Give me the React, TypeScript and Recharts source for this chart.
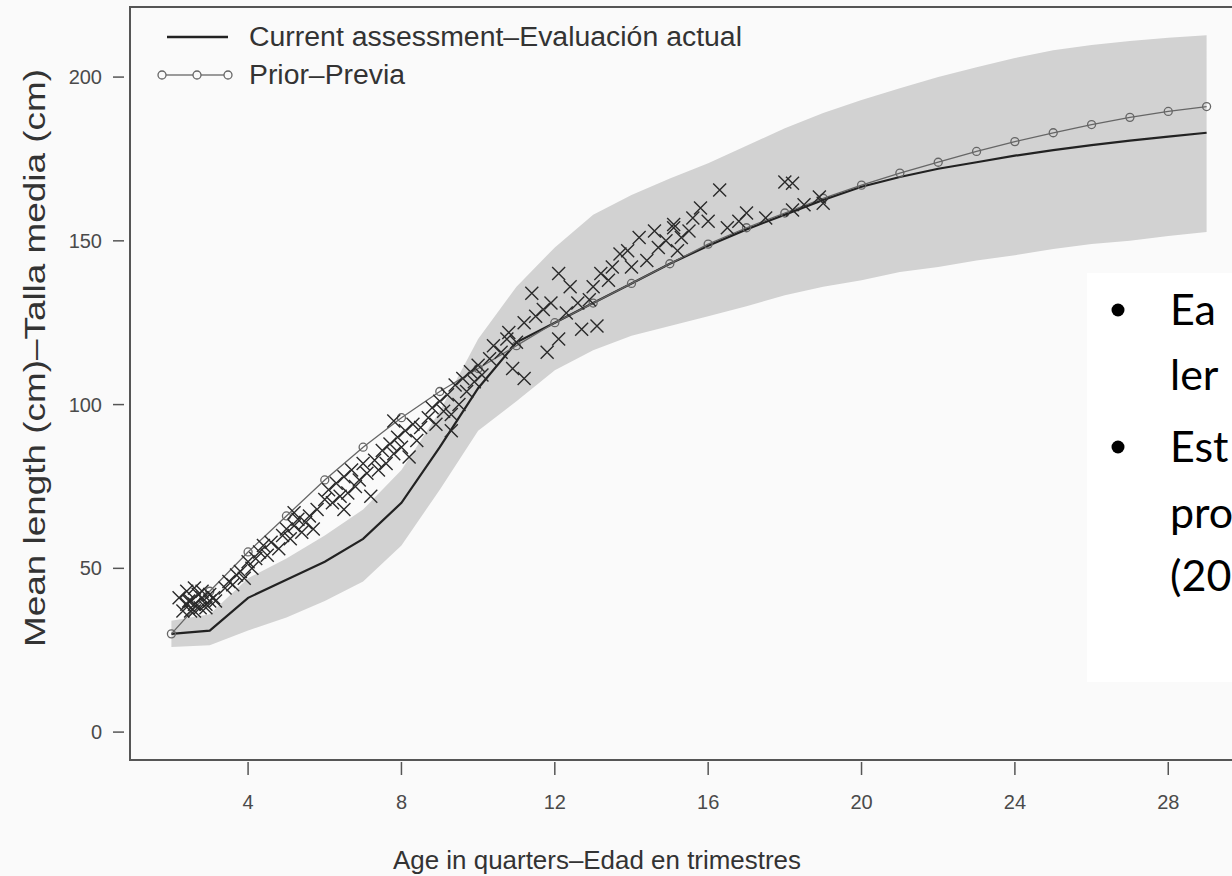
import React from 'react';
import { ComposedChart, Area, Line, Scatter, XAxis, YAxis, ReferenceArea } from 'recharts';

// age in quarters, one point per quarter
const ages = [2, 3, 4, 5, 6, 7, 8, 9, 10, 11, 12, 13, 14, 15, 16, 17, 18, 19, 20, 21, 22, 23, 24, 25, 26, 27, 28, 29];
const currentLen = [30, 31, 41, 46.5, 52, 59, 70, 87, 105, 119, 125, 131, 137, 143, 148.5, 153.5, 158, 162.5, 166.5, 169.5, 172, 174, 176, 177.7, 179.2, 180.6, 181.8, 183];
const priorLen = [30, 43, 55, 66, 77, 87, 96, 104, 111, 118, 125, 131, 137, 143, 149, 154, 158.5, 163, 167, 170.7, 174, 177.3, 180.3, 183, 185.5, 187.7, 189.5, 191];
const bandLow = [26, 26.5, 31, 35, 40, 46, 57, 74, 92, 101, 110.5, 116.6, 121, 124, 127, 130, 133.4, 136, 138, 140.5, 142, 144, 145.6, 147.5, 149, 150, 151.5, 152.7];
const bandHigh = [34, 36, 47, 53, 60, 68, 80, 98, 120, 136, 148, 158, 164, 169, 173.7, 179, 184.4, 189, 193, 196.6, 200, 203, 205.8, 208.2, 209.8, 211, 212, 212.8];

// observed mean lengths
const obsAge = [
  2.2, 2.4, 2.4, 2.5, 2.5, 2.6, 2.7, 2.75, 2.8, 2.9, 3.0, 3.0, 2.3, 2.6, 2.8, 2.9, 3.1, 2.6, 2.45, 3.15,
  3.4, 3.5, 3.6, 3.8, 3.9, 4.0, 4.1, 4.2, 3.7, 4.3,
  4.4, 4.5, 4.6, 4.8, 4.9, 5.0, 5.1, 5.2, 5.3, 5.4, 5.5, 5.6, 5.7, 5.8, 5.2,
  6.0, 6.1, 6.2, 6.3, 6.4, 6.5, 6.6, 6.7, 6.8, 6.9, 7.0, 7.1, 7.2, 6.5,
  7.3, 7.4, 7.5, 7.6, 7.7, 7.8, 7.9, 8.0, 8.1, 8.2, 8.3, 8.4, 8.5, 7.8,
  8.7, 8.8, 8.9, 9.0, 9.1, 9.2, 9.3, 9.4, 9.5, 9.6, 9.7, 9.8, 9.9, 10.0, 10.1, 9.3,
  10.3, 10.75, 10.9, 11.2, 11.2, 11.4, 11.7, 11.8, 12.1, 12.1, 12.4, 12.7, 12.9, 13.1, 10.4, 10.6, 10.8, 11.0, 11.5, 11.9,
  13.2, 13.5, 13.7, 14.0, 14.2, 14.4, 14.6, 14.9, 15.1, 12.3, 12.6, 13.0, 13.4, 13.9, 14.7, 15.3, 15.5, 15.2,
  15.6, 15.8, 16.0, 16.3, 16.8, 17.0, 18.0, 18.2, 18.2, 18.9, 19.0, 15.1, 16.5, 17.5, 18.5,
];
const obsLen = [
  41, 39, 43, 37, 40, 39, 42, 38, 41, 39, 40, 42, 37, 44, 43, 38, 41, 37, 40, 40,
  44, 46, 45, 49, 47, 52, 50, 53, 48, 55,
  57, 54, 58, 56, 60, 62, 59, 63, 65, 61, 64, 66, 62, 68, 67,
  71, 74, 70, 76, 72, 78, 73, 80, 75, 77, 82, 79, 72, 68,
  83, 80, 86, 82, 88, 85, 90, 87, 92, 84, 94, 89, 93, 95,
  96, 99, 94, 101, 98, 103, 92, 106, 100, 108, 104, 110, 107, 112, 109, 97,
  114, 120, 111, 108, 125, 134, 129, 116, 120, 140, 136, 123, 132, 124, 118, 116, 122, 119, 127, 131,
  140, 142, 146, 142, 151, 144, 153, 150, 155, 128, 131, 136, 138, 147, 148, 151, 153, 147,
  157, 160, 156, 165.5, 156, 158.5, 168, 167.6, 159.4, 163.4, 161.5, 154, 154, 157, 161,
];

const xTicks = [4, 8, 12, 16, 20, 24, 28];
const yTicks = [0, 50, 100, 150, 200];

const curveData = ages.map((age, i) => ({
  age,
  current: currentLen[i],
  prior: priorLen[i],
  band: [bandLow[i], bandHigh[i]],
}));
const obsData = obsAge.map((age, i) => ({ age, len: obsLen[i] }));

const FONT = '"Liberation Sans", Arial, sans-serif';
const X_DOMAIN: [number, number] = [0.92, 30.08];
const Y_DOMAIN: [number, number] = [-8.52, 221.4];

function Cross(props: any) {
  const { cx, cy } = props;
  if (cx == null || cy == null) return null;
  const s = 6.5;
  return (
    <path
      d={`M${cx - s},${cy - s}L${cx + s},${cy + s}M${cx - s},${cy + s}L${cx + s},${cy - s}`}
      stroke="#2a2a2a"
      strokeWidth={1.4}
      fill="none"
    />
  );
}

function XTick({ x, y, payload }: any) {
  return (
    <g>
      <line x1={x} x2={x} y1={y + 2} y2={y + 15} stroke="#555" strokeWidth={1.5} />
      <text x={x} y={y + 49} textAnchor="middle" fontSize={20} fill="#4a4a4a" fontFamily={FONT}>
        {payload.value}
      </text>
    </g>
  );
}

function YTick({ x, y, payload }: any) {
  return (
    <g>
      <line x1={x - 17} x2={x - 6} y1={y} y2={y} stroke="#555" strokeWidth={1.5} />
      <text x={x - 28} y={y + 7} textAnchor="end" fontSize={20} fill="#4a4a4a" fontFamily={FONT}>
        {payload.value}
      </text>
    </g>
  );
}

function Overlay() {
  return (
    <svg width={1232} height={876} style={{ position: 'absolute', left: 0, top: 0, pointerEvents: 'none' }}>
      {/* legend */}
      <line x1={167} x2={228} y1={37} y2={37} stroke="#222" strokeWidth={2.5} />
      <text x={249} y={46} fontSize={27} fill="#333" fontFamily={FONT} textLength={493} lengthAdjust="spacingAndGlyphs">
        Current assessment–Evaluación actual
      </text>
      <line x1={166} x2={193} y1={75} y2={75} stroke="#666" strokeWidth={1.3} />
      <line x1={201} x2={224} y1={75} y2={75} stroke="#666" strokeWidth={1.3} />
      <circle cx={162} cy={75} r={4} fill="none" stroke="#666" strokeWidth={1.3} />
      <circle cx={197} cy={75} r={4} fill="none" stroke="#666" strokeWidth={1.3} />
      <circle cx={228} cy={75} r={4} fill="none" stroke="#666" strokeWidth={1.3} />
      <text x={249} y={84} fontSize={27} fill="#333" fontFamily={FONT} textLength={156} lengthAdjust="spacingAndGlyphs">
        Prior–Previa
      </text>
      {/* axis titles */}
      <text x={393} y={869} fontSize={26} fill="#333" fontFamily={FONT} textLength={408} lengthAdjust="spacingAndGlyphs">
        Age in quarters–Edad en trimestres
      </text>
      <text
        transform="translate(45,358) rotate(-90)"
        textAnchor="middle"
        fontSize={30}
        fill="#333"
        fontFamily={FONT}
        textLength={578}
        lengthAdjust="spacingAndGlyphs"
      >
        Mean length (cm)–Talla media (cm)
      </text>
    </svg>
  );
}

const bullets = [
  { text: 'Ea', y: 325, bullet: true },
  { text: 'ler', y: 390, bullet: false },
  { text: 'Est', y: 462, bullet: true },
  { text: 'pro', y: 528, bullet: false },
  { text: '(20', y: 591, bullet: false },
];

function TextBox() {
  return (
    <svg width={1232} height={876} style={{ position: 'absolute', left: 0, top: 0, pointerEvents: 'none' }}>
      <rect x={1087} y={273} width={200} height={409} fill="#ffffff" />
      {bullets.map((b) => (
        <g key={b.text}>
          {b.bullet && <circle cx={1118} cy={b.y - 15} r={6.5} fill="#000" />}
          <text x={1170} y={b.y} fontSize={43} fill="#000" fontFamily="Lato, 'Open Sans', sans-serif">
            {b.text}
          </text>
        </g>
      ))}
    </svg>
  );
}

export default function App() {
  return (
    <div
      style={{
        position: 'fixed',
        left: 0,
        top: 0,
        width: 1232,
        height: 876,
        overflow: 'hidden',
        background: '#fafafa',
      }}
    >
      <ComposedChart width={1300} height={876} margin={{ top: 7, right: 52, bottom: 0, left: 0 }}>
        <XAxis
          type="number"
          dataKey="age"
          domain={X_DOMAIN}
          ticks={xTicks}
          allowDataOverflow
          axisLine={false}
          tickLine={false}
          tickSize={0}
          tickMargin={0}
          height={116}
          tick={<XTick />}
        />
        <YAxis
          type="number"
          domain={Y_DOMAIN}
          ticks={yTicks}
          allowDataOverflow
          axisLine={false}
          tickLine={false}
          tickSize={0}
          tickMargin={0}
          width={130}
          tick={<YTick />}
        />
        <Area
          data={curveData}
          dataKey="band"
          type="linear"
          stroke="none"
          fill="#d2d2d2"
          fillOpacity={1}
          isAnimationActive={false}
        />
        <Line
          data={curveData}
          dataKey="current"
          type="linear"
          stroke="#222"
          strokeWidth={2.2}
          dot={false}
          isAnimationActive={false}
        />
        <Line
          data={curveData}
          dataKey="prior"
          type="linear"
          stroke="#666"
          strokeWidth={1.3}
          dot={{ r: 4, stroke: '#666', strokeWidth: 1.3, fill: 'none' }}
          isAnimationActive={false}
        />
        <Scatter data={obsData} dataKey="len" shape={<Cross />} isAnimationActive={false} />
        <ReferenceArea
          x1={X_DOMAIN[0]}
          x2={X_DOMAIN[1]}
          y1={Y_DOMAIN[0]}
          y2={Y_DOMAIN[1]}
          fill="none"
          stroke="#555"
          strokeWidth={2}
          ifOverflow="visible"
        />
      </ComposedChart>
      <Overlay />
      <TextBox />
    </div>
  );
}
